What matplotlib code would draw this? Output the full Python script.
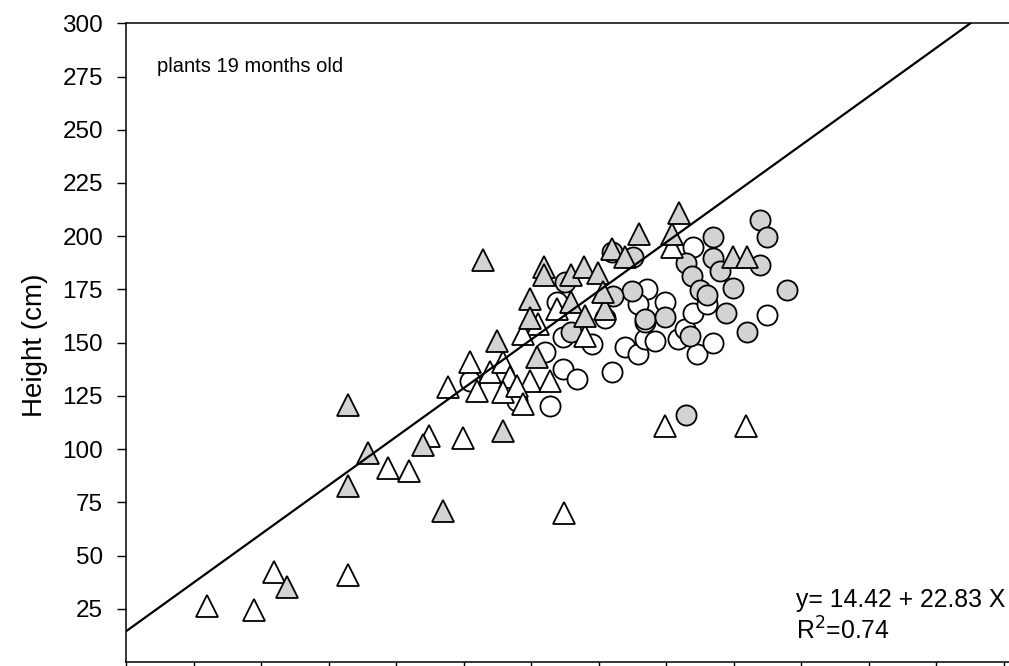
import matplotlib
matplotlib.use("Agg")
import matplotlib.pyplot as plt
import numpy as np

plt.rcParams['font.family'] = ['Liberation Sans', 'DejaVu Sans']

# open triangles
wt_x = [1.20, 1.90, 2.19, 3.29, 3.88, 4.19, 4.49, 4.99, 4.77, 5.20, 5.10, 5.39, 5.59, 5.69,
        5.99, 6.28, 5.59, 5.79, 5.88, 6.39, 6.10, 5.88, 6.80, 6.49, 7.99, 9.19, 8.09]
wt_y = [26.4, 24.5, 42.3, 40.9, 91.1, 89.7, 106.1, 105.1, 129.0, 127.2, 140.8, 136.1, 140.8, 133.7,
        131.9, 131.9, 126.7, 129.5, 121.1, 165.6, 158.6, 153.9, 152.9, 70.0, 110.9, 110.9, 195.1]

# grey triangles
gt_x = [2.39, 3.29, 3.29, 3.59, 4.40, 4.70, 5.59, 5.29, 6.19, 6.19, 6.59, 6.79, 6.99, 7.20,
        7.39, 7.60, 8.09, 8.19, 8.99, 9.20, 5.99, 6.59, 7.10, 7.07, 6.80, 5.99, 5.50, 6.09]
gt_y = [35.3, 120.6, 82.6, 98.1, 101.9, 70.9, 108.4, 188.6, 185.7, 182.0, 182.0, 185.7, 182.9, 194.2,
        190.4, 200.8, 200.8, 211.1, 190.4, 190.4, 170.3, 168.9, 165.6, 173.6, 162.3, 161.4, 150.6, 143.1]

# open circles
wc_x = [6.39, 7.72, 7.59, 7.99, 7.10, 6.47, 6.90, 6.21, 6.47, 6.68, 7.20, 7.39, 7.59, 7.69,
        7.84, 8.18, 8.28, 8.40, 8.46, 5.10, 5.79, 6.28, 8.40, 8.61, 7.69, 9.50, 8.70]
wc_y = [168.9, 175.0, 168.0, 168.9, 161.8, 152.5, 149.2, 145.5, 137.5, 132.8, 136.1, 147.8, 144.5, 151.5,
        150.6, 151.5, 156.2, 163.7, 144.5, 131.8, 122.5, 120.2, 195.1, 168.0, 159.5, 162.8, 149.7]

# grey circles
gc_x = [6.50, 7.20, 7.51, 8.30, 8.39, 7.50, 7.21, 7.69, 7.99, 6.59, 8.36, 8.30, 8.70, 9.39,
        9.50, 9.39, 8.70, 8.80, 8.50, 8.61, 8.99, 9.79, 8.89, 9.20]
gc_y = [178.7, 192.8, 190.0, 187.6, 181.1, 174.4, 172.0, 161.2, 162.1, 154.8, 153.0, 115.9, 199.8, 207.8,
        199.8, 186.7, 189.9, 183.8, 174.9, 172.6, 175.9, 174.9, 163.7, 154.8]

intercept = 14.42
slope = 22.83

y_ticks = [25, 50, 75, 100, 125, 150, 175, 200, 225, 250, 275, 300]
x_ticks = list(range(0, 14))

W, H = 1009, 666
fig = plt.figure(figsize=(W / 100, H / 100), dpi=100)
left_px, right_px = 126, 126 + 14 * 67.5
bottom_px, top_px = 662, 23.3
ax = fig.add_axes([left_px / W, (H - bottom_px) / H, (right_px - left_px) / W, (bottom_px - top_px) / H])

grey = '#d3d3d3'
ms_c = 14.5
ms_t = 15.5
mew = 1.3
ax.plot(wc_x, wc_y, 'o', ms=ms_c, mfc='white', mec='black', mew=mew, zorder=2)
ax.plot(gc_x, gc_y, 'o', ms=ms_c, mfc=grey, mec='black', mew=mew, zorder=3)
ax.plot(wt_x, wt_y, '^', ms=ms_t, mfc='white', mec='black', mew=mew, zorder=4)
ax.plot(gt_x, gt_y, '^', ms=ms_t, mfc=grey, mec='black', mew=mew, zorder=5)

xl = np.array([0, 14])
ax.plot(xl, intercept + slope * xl, color='black', lw=1.6, zorder=6)

ax.set_xlim(0, 14)
ax.set_ylim(0, 300)
ax.set_yticks(y_ticks)
ax.set_xticks(x_ticks)
ax.tick_params(axis='y', direction='out', length=6.5, width=1.0, labelsize=17.5, pad=10)
ax.tick_params(axis='x', direction='out', length=6.5, width=1.0, labelbottom=False)
for s in ['left', 'bottom', 'top']:
    ax.spines[s].set_linewidth(1.1)
ax.spines['right'].set_visible(False)

ax.set_ylabel('Height (cm)', fontsize=20)
ax.yaxis.set_label_coords(-(126 - 35) / (right_px - left_px), (662 - 345) / (bottom_px - top_px))
ax.yaxis.label.set_va('center')
ax.text(0.46, 279.5, 'plants 19 months old', fontsize=14.5, va='center', ha='left')
ax.text(9.93, (662 - 600) / 638.7 * 300, 'y= 14.42 + 22.83 X', fontsize=17.8, va='center', ha='left')
ax.text(9.93, (662 - 631) / 638.7 * 300, r'R$^2$=0.74', fontsize=17.8, va='center', ha='left')

fig.savefig('out.png', dpi=100)
